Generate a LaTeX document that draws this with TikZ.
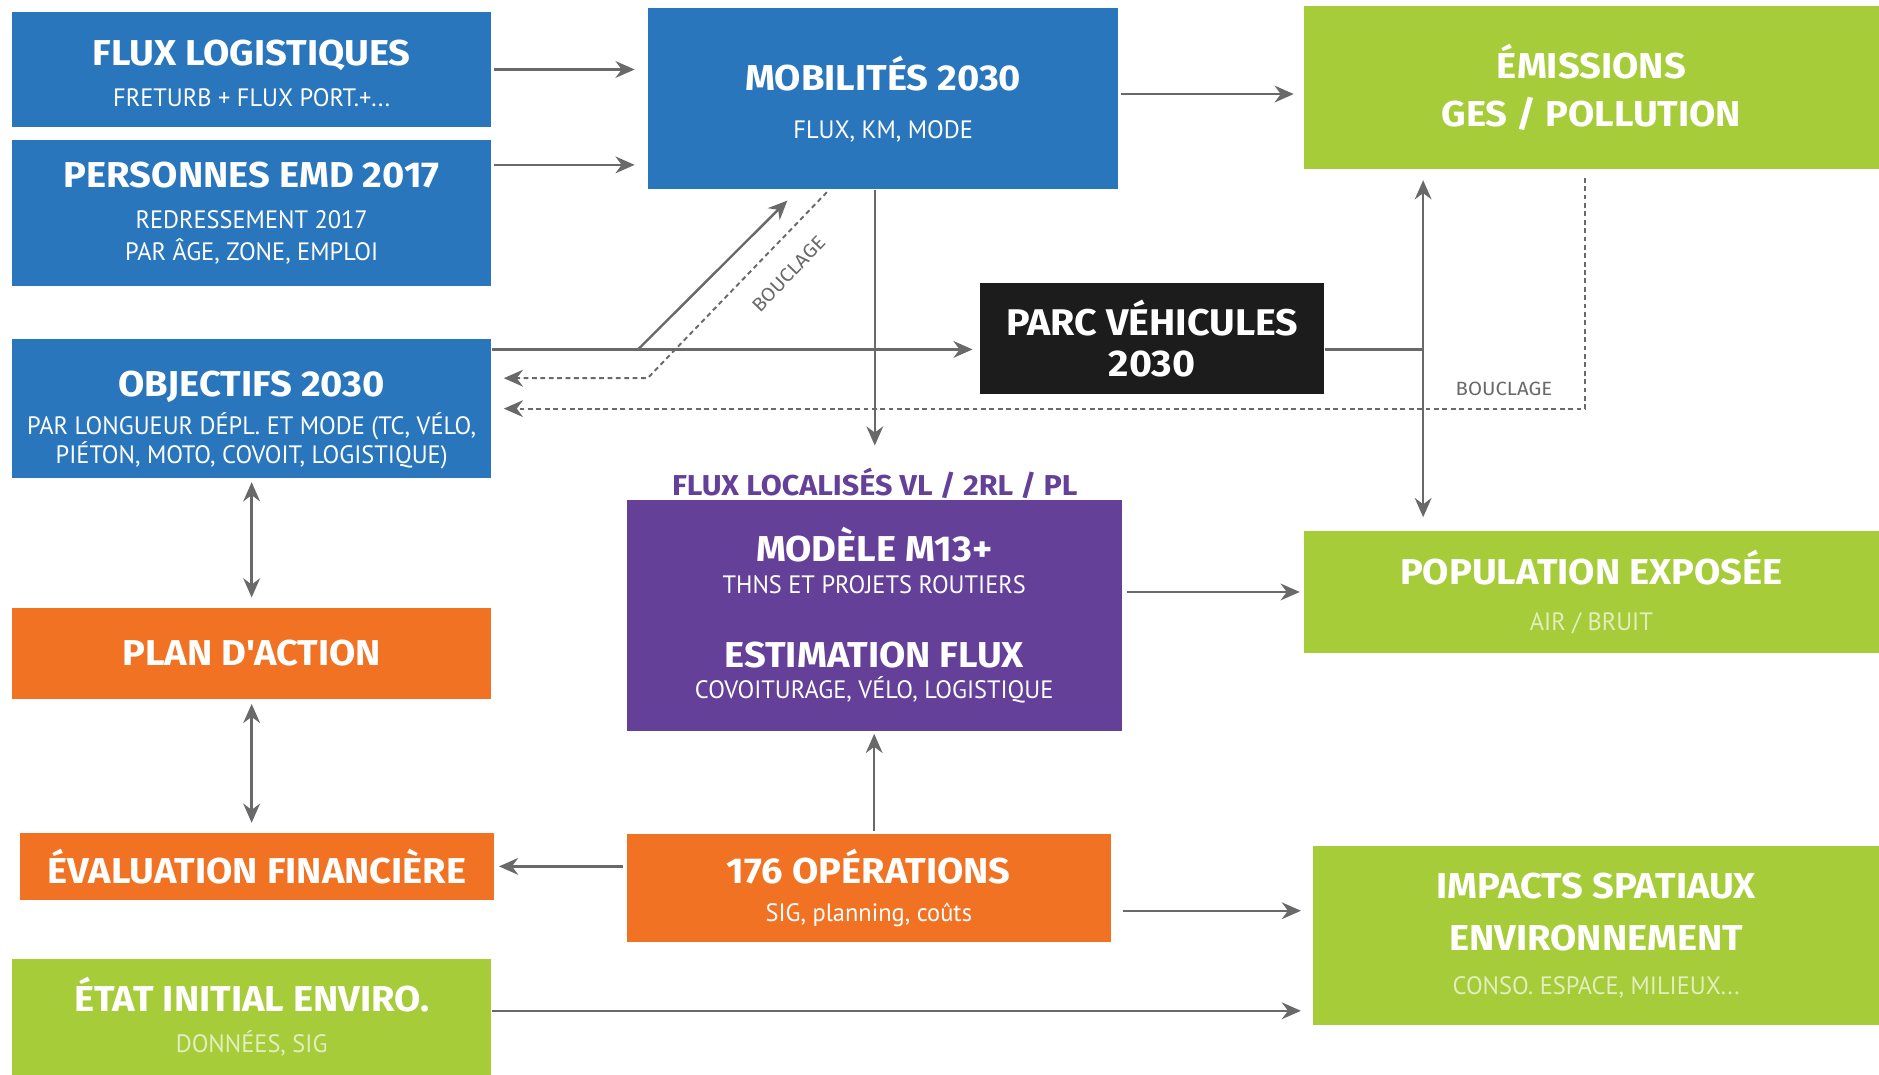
\documentclass[tikz,border=0pt]{standalone}
\usepackage{fontspec}
\usepackage{tikz}
\usetikzlibrary{positioning,arrows.meta,calc}
\newfontfamily\headfont{Fira Sans}[FakeStretch=1.06]
\newfontfamily\subfont{PT Sans}[FakeStretch=0.97]
\definecolor{boxblue}{RGB}{42,118,188}
\definecolor{boxgreen}{RGB}{166,204,57}
\definecolor{boxorange}{RGB}{241,114,35}
\definecolor{boxpurple}{RGB}{100,64,152}
\definecolor{boxblack}{RGB}{28,28,28}
\definecolor{arrclr}{RGB}{105,105,105}
\definecolor{palegreen}{RGB}{226,238,190}
\newcommand{\subtxt}[2][white]{{\color{#1}\subfont\mdseries\fontsize{10.5}{12.5}\selectfont #2}}
\tikzset{
  box/.style={rectangle,inner sep=0pt,align=center,text=white,
              font=\headfont\bfseries\fontsize{15}{17}\selectfont},
  bluebox/.style={box,fill=boxblue},
  greenbox/.style={box,fill=boxgreen},
  orangebox/.style={box,fill=boxorange},
  purplebox/.style={box,fill=boxpurple},
  blackbox/.style={box,fill=boxblack,font=\headfont\bfseries\fontsize{15.5}{17}\selectfont},
  arr/.style={draw=arrclr,line width=1pt,-{Stealth[length=8pt,width=7pt]}},
  darr/.style={arr,{Stealth[length=8pt,width=7pt]}-{Stealth[length=8pt,width=7pt]}},
  loopline/.style={draw=arrclr,line width=0.8pt,dash pattern=on 2pt off 1.5pt,
              -{Stealth[length=8pt,width=7pt]}},
  lbl/.style={font=\headfont\fontsize{8}{9}\selectfont,text=arrclr,inner sep=1pt},
}

\begin{document}
\begin{tikzpicture}[x=0.5pt,y=-0.5pt]
\fill[white] (0,0) rectangle (1568,897);
\useasboundingbox (0,0) rectangle (1568,897);

% left column
\node[bluebox,minimum width=200pt,minimum height=48pt] (fluxlog) at (210,58)
  {\rule{0pt}{14pt}FLUX LOGISTIQUES\\[0pt]\subtxt{FRETURB + FLUX PORT.+...}};
\node[bluebox,minimum width=200pt,minimum height=61pt] (personnes) at (210,178)
  {PERSONNES EMD 2017\\[0pt]\subtxt{REDRESSEMENT 2017}\\[-3.5pt]\subtxt{PAR ÂGE, ZONE, EMPLOI}};
\node[bluebox,minimum width=200pt,minimum height=58pt] (objectifs) at (210,341)
  {\rule{0pt}{20pt}OBJECTIFS 2030\\[-1pt]\subtxt{PAR LONGUEUR DÉPL. ET MODE (TC, VÉLO,}\\[-5pt]\subtxt{PIÉTON, MOTO, COVOIT, LOGISTIQUE)}};
\node[orangebox,minimum width=200pt,minimum height=38pt] (plan) at (210,545) {PLAN D'ACTION};
\node[orangebox,minimum width=197.5pt,minimum height=28pt] (evalfin) at (214.5,723) {ÉVALUATION FINANCIÈRE};
\node[greenbox,minimum width=200pt,minimum height=48.5pt] (etat) at (210,848.5)
  {ÉTAT INITIAL ENVIRO.\\[0pt]\subtxt[palegreen]{DONNÉES, SIG}};

% middle column
\node[bluebox,minimum width=196pt,minimum height=75.5pt] (mobilites) at (737,82.5)
  {MOBILITÉS 2030\\[3pt]\subtxt{FLUX, KM, MODE}};
\node[blackbox,minimum width=143.5pt,minimum height=46.5pt] (parc) at (961.5,282.5)
  {PARC VÉHICULES\\2030};
\node[font=\headfont\bfseries\fontsize{12}{14}\selectfont,text=boxpurple,inner sep=1pt] (fluxloc) at (730,403)
  {FLUX LOCALISÉS VL / 2RL / PL};
\node[purplebox,minimum width=206.5pt,minimum height=96.5pt] (modele) at (729.5,513.5)
  {MODÈLE M13+\\[-4pt]\subtxt{THNS ET PROJETS ROUTIERS}\\[14pt]ESTIMATION FLUX\\[-4pt]\subtxt{COVOITURAGE, VÉLO, LOGISTIQUE}};
\node[orangebox,minimum width=202pt,minimum height=45pt] (operations) at (725,741)
  {176 OPÉRATIONS\\[-1pt]\subtxt{SIG, planning, coûts}};

% right column
\node[greenbox,minimum width=240pt,minimum height=68pt] (emissions) at (1328,73)
  {ÉMISSIONS\\[3pt]GES / POLLUTION};
\node[greenbox,minimum width=240pt,minimum height=51pt] (population) at (1328,494)
  {POPULATION EXPOSÉE\\[2pt]\subtxt[palegreen]{AIR / BRUIT}};
\node[greenbox,minimum width=236pt,minimum height=74.5pt] (impacts) at (1332,780.5)
  {IMPACTS SPATIAUX\\[5pt]ENVIRONNEMENT\\[1pt]\subtxt[palegreen]{CONSO. ESPACE, MILIEUX...}};

% helper points
\coordinate (pers) at ($(personnes.north east)+(0,21)$);
\coordinate (obr) at ($(objectifs.north east)+(0,9)$);
\coordinate (fork) at ($(obr)+(122,0)$);
\coordinate (bc1) at ($(objectifs.north east)+(130,33)$);
\coordinate (vtop) at ($(emissions.south west)+(100,9)$);
\coordinate (vbot) at ($(population.north west)+(100,-11)$);
\coordinate (ems) at ($(emissions.south)+(-5,7)$);
\coordinate (opr) at ($(operations.east)+(0,19)$);

% connectors
\draw[arr,shorten <=1pt,shorten >=5.5pt] (fluxlog.east) -- (fluxlog.east -| mobilites.west);
\draw[arr,shorten <=1pt,shorten >=5.5pt] (pers) -- (pers -| mobilites.west);
\draw[arr,shorten <=1pt,shorten >=4pt] ($(mobilites.east)+(0,-4)$) -- ($(mobilites.east -| emissions.west)+(0,-4)$);
\draw[arr,shorten >=3pt] (obr) -- (obr -| parc.west);
\draw[arr] (fork) -- ($(mobilites.south)+(-80,9)$);
\draw[loopline,shorten >=5pt] ($(mobilites.south)+(-47,2)$) -- (bc1)
  node[lbl,pos=0.33,sloped,below=8pt] (bcl1) {BOUCLAGE}
  -- (bc1 -| objectifs.east);
\draw[loopline,shorten >=5pt] (ems) -- (ems |- objectifs.east)
  node[lbl,pos=1,above=4pt,xshift=-34pt] (bcl2) {BOUCLAGE}
  -- (objectifs.east);
\draw[arr,shorten >=8pt] (fluxloc |- mobilites.south) -- (fluxloc.north);
\draw[draw=arrclr,line width=1pt] (obr -| parc.east) -- (obr -| vtop);
\draw[darr] (vtop) -- (vbot);
\draw[arr,shorten <=2pt,shorten >=1.5pt] (population.west -| modele.east) -- (population.west);
\draw[darr,shorten <=1.5pt,shorten >=4pt] (objectifs.south) -- (plan.north);
\draw[darr,shorten <=2pt,shorten >=4pt] (plan.south) -- (plan.south |- evalfin.north);
\draw[arr,shorten <=1pt,shorten >=1pt] (modele.south |- operations.north) -- (modele.south);
\draw[arr,shorten <=1.5pt,shorten >=2pt] (operations.west |- evalfin.east) -- (evalfin.east);
\draw[arr,shorten <=5pt,shorten >=5pt] (opr) -- (opr -| impacts.west);
\draw[arr,shorten >=5pt] ($(etat.east)+(0,-5)$) -- ($(etat.east -| impacts.west)+(0,-5)$);
\end{tikzpicture}
\end{document}
